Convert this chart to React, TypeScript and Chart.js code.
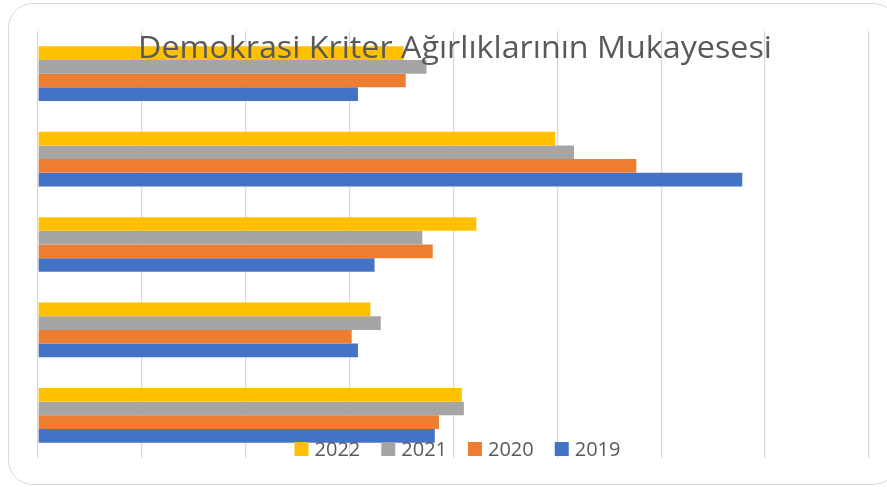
import React, { useEffect, useRef } from "react";
import { Chart, registerables } from "chart.js";

Chart.register(...registerables);

const TITLE = "Demokrasi Kriter Ağırlıklarının Mukayesesi";
const categories = ["Kriter 1", "Kriter 2", "Kriter 3", "Kriter 4", "Kriter 5"];
const seriesLabels = ["2022", "2021", "2020", "2019"];
const values2022 = [17.6, 24.9, 21.1, 16.0, 20.4];
const values2021 = [18.7, 25.8, 18.5, 16.5, 20.5];
const values2020 = [17.7, 28.8, 19.0, 15.1, 19.3];
const values2019 = [15.4, 33.9, 16.2, 15.4, 19.1];
const seriesColors = ["#FFC000", "#A5A5A5", "#ED7D31", "#4472C4"];
const xTicksMax = 40;
const xTicksStep = 5;

const overlayPlugin = {
  id: "overlayTitleLegend",
  afterDraw(chart: any) {
    const ctx = chart.ctx as CanvasRenderingContext2D;
    ctx.save();
    // title
    ctx.fillStyle = "#595959";
    ctx.textBaseline = "alphabetic";
    ctx.textAlign = "center";
    ctx.font = `400 31px "Open Sans"`;
    const tw = ctx.measureText(TITLE).width;
    const sx = 634 / tw;
    ctx.save();
    ctx.translate(455, 58);
    ctx.scale(sx, 1);
    ctx.fillText(TITLE, 0, 0);
    ctx.restore();

    // legend
    ctx.font = `20px "Open Sans"`;
    ctx.textAlign = "left";
    const items = chart.data.datasets.map((ds: any) => ({
      label: ds.label as string,
      color: ds.backgroundColor as string,
      w: ctx.measureText(ds.label).width,
    }));
    const box = 14;
    const gapText = 6;
    const gapItem = 21;
    let total = 0;
    items.forEach((it: any, i: number) => {
      total += box + gapText + it.w + (i < items.length - 1 ? gapItem : 0);
    });
    let x = 457.5 - total / 2;
    items.forEach((it: any) => {
      ctx.fillStyle = it.color;
      ctx.fillRect(x, 442, box, box);
      ctx.fillStyle = "#595959";
      ctx.fillText(it.label, x + box + gapText, 456);
      x += box + gapText + it.w + gapItem;
    });
    ctx.restore();
  },
};

export default function App() {
  const ref = useRef<HTMLCanvasElement | null>(null);

  useEffect(() => {
    if (!ref.current) return;
    const allValues = [values2022, values2021, values2020, values2019];
    const chart = new Chart(ref.current, {
      type: "bar",
      data: {
        labels: categories,
        datasets: seriesLabels.map((label, i) => ({
          label,
          data: allValues[i],
          backgroundColor: seriesColors[i],
          borderWidth: 0,
          categoryPercentage: 0.64,
          barPercentage: 1.0,
        })),
      },
      options: {
        indexAxis: "y",
        responsive: false,
        animation: false,
        layout: { padding: { left: 38, right: 18, top: 31, bottom: 29 } },
        plugins: {
          legend: { display: false },
          title: { display: false },
          tooltip: { enabled: false },
        },
        scales: {
          x: {
            min: 0,
            max: xTicksMax,
            ticks: { display: false, stepSize: xTicksStep },
            grid: { color: "#d9d9d9", lineWidth: 1.3, drawTicks: false },
            border: { display: false },
          },
          y: {
            display: false,
          },
        },
      },
      plugins: [overlayPlugin],
    });
    return () => chart.destroy();
  }, []);

  return (
    <div
      style={{
        position: "fixed",
        left: 0,
        top: 0,
        width: 887,
        height: 487,
        overflow: "hidden",
        background: "#ffffff",
      }}
    >
      <div
        style={{
          position: "absolute",
          left: 8,
          top: 3,
          width: 890,
          height: 482,
          border: "1.5px solid #d9d9d9",
          borderRadius: 25,
          boxSizing: "border-box",
        }}
      />
      <canvas
        ref={ref}
        width={887}
        height={487}
        style={{ position: "absolute", left: 0, top: 0, width: 887, height: 487 }}
      />
    </div>
  );
}
